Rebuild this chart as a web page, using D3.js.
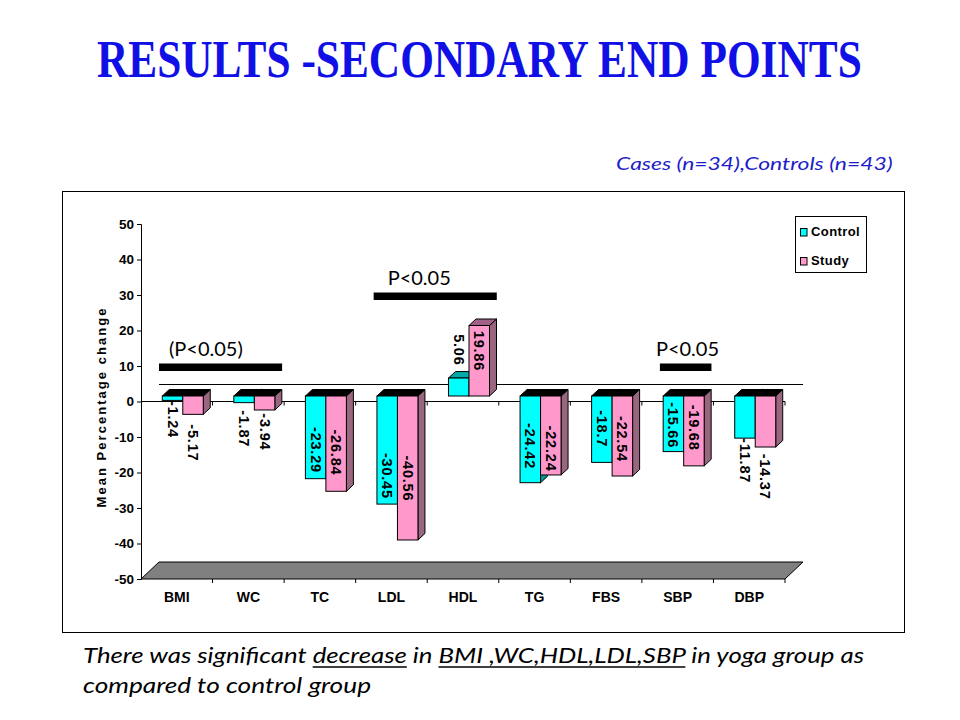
<!DOCTYPE html>
<html><head><meta charset="utf-8">
<script src="https://cdn.jsdelivr.net/npm/d3@7"></script>
<style>body{margin:0;background:#fff}</style>
</head><body>
<svg id="c" width="960" height="720"></svg>
<script>
// ---------- data ----------
const categories = ["BMI","WC","TC","LDL","HDL","TG","FBS","SBP","DBP"];
const controlValues = [-1.24,-1.87,-23.29,-30.45,5.06,-24.42,-18.7,-15.66,-11.87];
const studyValues   = [-5.17,-3.94,-26.84,-40.56,19.86,-22.24,-22.54,-19.68,-14.37];
const seriesNames = ["Control","Study"];
const yTickValues = [50,40,30,20,10,0,-10,-20,-30,-40,-50];
const sigLabels = ["(P<0.05)","P<0.05","P<0.05"];
const sigFrom = ["BMI","LDL","SBP"];
const sigTo   = ["WC","HDL","SBP"];
const sigLevel = [10,30,10];

// ---------- layout (label placement, in chart value units) ----------
const labelPosControl = [-6.6,-9.2,-15.2,-22.5,13.0,-14.1,-9.2,-8.2,-18.2];
const labelPosStudy   = [-13.2,-10.1,-15.9,-23.2,12.7,-14.8,-12.1,-8.9,-22.7];
const sigTextDx = [10,14,-4];

const svg = d3.select("#c");
const ARIAL = "'Liberation Sans', Arial, sans-serif";
const CAL = "Lato, 'Open Sans', sans-serif";

// fit a text horizontally into [x0, x0+w] by scaling
function fitText(sel, x0, base, w) {
  const n = sel.node().getComputedTextLength();
  sel.attr("x",0).attr("y",0).attr("transform",`translate(${x0},${base}) scale(${w/n},1)`);
}

// Title
const title = svg.append("text")
  .style("font-family","'Liberation Serif', 'DejaVu Serif', serif").style("font-weight","bold")
  .style("font-size","52px").style("fill","#1010e6")
  .text("RESULTS -SECONDARY END POINTS");
fitText(title, 97, 77, 765);

const sub = svg.append("text")
  .style("font-family",CAL).style("font-style","italic").style("font-size","18px")
  .style("fill","#1c1cc8").text("Cases (n=34),Controls (n=43)");
fitText(sub, 616, 170, 277);

// frame
svg.append("rect").attr("x",62.5).attr("y",191.5).attr("width",842).attr("height",441)
  .attr("fill","none").attr("stroke","#000").attr("stroke-width",1);

// scales
const x = d3.scaleBand().domain(categories).range([141,785]).padding(0);
const y = d3.scaleLinear().domain([-50,50]).range([579,224]);
const depth = {dx:18, dy:17};      // floor depth
const barOff = {dx:6, dy:5.5};     // bar position in depth
const barDepth = {dx:7, dy:6.5};   // bar thickness in depth
const bw = 20.5;

// floor
const yb = y(-50);
svg.append("polygon")
  .attr("points",[[141,yb],[141+depth.dx,yb-depth.dy],[785+depth.dx,yb-depth.dy],[785,yb]].map(p=>p.join(",")).join(" "))
  .attr("fill","#808080").attr("stroke","#000").attr("stroke-width",1);

// back zero line
svg.append("line").attr("x1",141+depth.dx).attr("x2",785+depth.dx)
  .attr("y1",y(0)-depth.dy).attr("y2",y(0)-depth.dy).attr("stroke","#000");
// front zero line with ticks
svg.append("line").attr("x1",141).attr("x2",785).attr("y1",y(0)).attr("y2",y(0)).attr("stroke","#000");
const bounds = categories.map(c=>x(c)+x.bandwidth());
svg.append("g").selectAll("line").data(bounds).join("line")
  .attr("x1",d=>d).attr("x2",d=>d).attr("y1",y(0)).attr("y2",y(0)+4).attr("stroke","#000");

// y axis
const yAxis = d3.axisLeft(y).tickValues(yTickValues).tickFormat(d=>String(d)).tickSize(4).tickPadding(3);
const ga = svg.append("g").attr("transform","translate(141,0)").call(yAxis);
ga.select(".domain").attr("stroke","#000");
ga.selectAll("text").style("font-family",ARIAL).style("font-weight","bold").style("font-size","13.5px").attr("fill","#000");

// bottom axis
const xAxis = d3.axisBottom(x).tickSize(0).tickPadding(13);
const gx = svg.append("g").attr("transform",`translate(0,${y(-50)})`).call(xAxis);
gx.select(".domain").remove();
gx.selectAll("text").style("font-family",ARIAL).style("font-weight","bold").style("font-size","14px").attr("fill","#000");
svg.append("g").selectAll("line").data(bounds).join("line")
  .attr("x1",d=>d).attr("x2",d=>d).attr("y1",y(-50)).attr("y2",y(-50)+4).attr("stroke","#000");

// y axis title
svg.append("text").attr("transform","translate(106,408) rotate(-90)")
  .attr("text-anchor","middle").attr("textLength",199).attr("lengthAdjust","spacing")
  .style("font-family",ARIAL).style("font-weight","bold").style("font-size","13px")
  .text("Mean Percentage change");

// 3D bars
const series = [
  {name:seriesNames[0], values:controlValues, front:"#00ffff", topPos:"#00a8a8", side:"#009a9a", labels:labelPosControl, shift:-bw},
  {name:seriesNames[1], values:studyValues, front:"#ff99cc", topPos:"#a0608a", side:"#996680", labels:labelPosStudy, shift:0}
];
const gb = svg.append("g");
categories.forEach((c,i)=>{
  series.forEach(s=>{
    const v = s.values[i];
    const x0 = x(c) + x.bandwidth()/2 + barOff.dx + s.shift;
    const y0 = y(0) - barOff.dy, y1 = y(v) - barOff.dy;
    const top = Math.min(y0,y1), bot = Math.max(y0,y1);
    const g = gb.append("g");
    g.append("polygon").attr("points",[[x0+bw,top],[x0+bw+barDepth.dx,top-barDepth.dy],[x0+bw+barDepth.dx,bot-barDepth.dy],[x0+bw,bot]].map(p=>p.join(",")).join(" "))
      .attr("fill",s.side).attr("stroke","#000").attr("stroke-width",1).attr("stroke-linejoin","round");
    g.append("polygon").attr("points",[[x0,top],[x0+barDepth.dx,top-barDepth.dy],[x0+bw+barDepth.dx,top-barDepth.dy],[x0+bw,top]].map(p=>p.join(",")).join(" "))
      .attr("fill", v<0 ? "#000" : s.topPos).attr("stroke","#000").attr("stroke-width",1).attr("stroke-linejoin","round");
    g.append("rect").attr("x",x0).attr("y",top).attr("width",bw).attr("height",bot-top)
      .attr("fill",s.front).attr("stroke","#000").attr("stroke-width",1);
  });
});
// data labels
const gl = svg.append("g");
categories.forEach((c,i)=>{
  series.forEach(s=>{
    const cx = x(c) + x.bandwidth()/2 + barOff.dx + s.shift + bw/2;
    const cy = y(s.labels[i]) - barOff.dy;
    gl.append("text").attr("transform",`translate(${cx},${cy}) rotate(90)`)
      .attr("text-anchor","middle").attr("dominant-baseline","central")
      .style("font-family",ARIAL).style("font-weight","bold").style("font-size","14.5px")
      .style("letter-spacing","0.8px")
      .text(String(s.values[i]));
  });
});

// significance bars
sigLabels.forEach((lab,i)=>{
  const x0 = x(sigFrom[i]) + 18, x1 = x(sigTo[i]) + x.bandwidth() - 2;
  const ty = y(sigLevel[i]) - 2.5;
  svg.append("rect").attr("x",x0).attr("y",ty).attr("width",x1-x0).attr("height",7.5).attr("fill","#000");
  svg.append("text").attr("x",x0+sigTextDx[i]).attr("y",ty-8)
    .style("font-family",CAL).style("font-size","20px").style("fill","#000")
    .text(lab);
});

// legend
const lg = svg.append("g");
lg.append("rect").attr("x",795.5).attr("y",216.5).attr("width",71).attr("height",56)
  .attr("fill","#fff").attr("stroke","#000");
series.forEach((s,k)=>{
  const yy = 228 + k*29;
  lg.append("rect").attr("x",800.5).attr("y",yy+0.5).attr("width",6.5).attr("height",7.5)
    .attr("fill",s.front).attr("stroke","#000");
  lg.append("text").attr("x",811).attr("y",yy+8)
    .style("font-family",ARIAL).style("font-weight","bold").style("font-size","13px")
    .style("letter-spacing","0.4px").text(s.name);
});

// bottom note
const t1 = svg.append("text").attr("x",83).attr("y",663)
  .attr("textLength",781).attr("lengthAdjust","spacingAndGlyphs")
  .style("font-family",CAL).style("font-style","italic").style("font-size","22px").style("fill","#000");
const parts = ["There was significant ","decrease"," in ","BMI ,WC,HDL,LDL,SBP"," in yoga group as"];
t1.text(parts.join(""));
// underline "decrease" and the marker list
const node = t1.node();
let idx = 0;
parts.forEach((p,k)=>{
  if (k===1 || k===3) {
    const xs = node.getStartPositionOfChar(idx).x;
    const xe = node.getEndPositionOfChar(idx+p.length-1).x;
    svg.append("line").attr("x1",xs).attr("x2",xe).attr("y1",667).attr("y2",667)
      .attr("stroke","#000").attr("stroke-width",1.5);
  }
  idx += p.length;
});
svg.append("text").attr("x",83).attr("y",693)
  .attr("textLength",288).attr("lengthAdjust","spacingAndGlyphs")
  .style("font-family",CAL).style("font-style","italic").style("font-size","22px").style("fill","#000")
  .text("compared to control group");
</script></body></html>
